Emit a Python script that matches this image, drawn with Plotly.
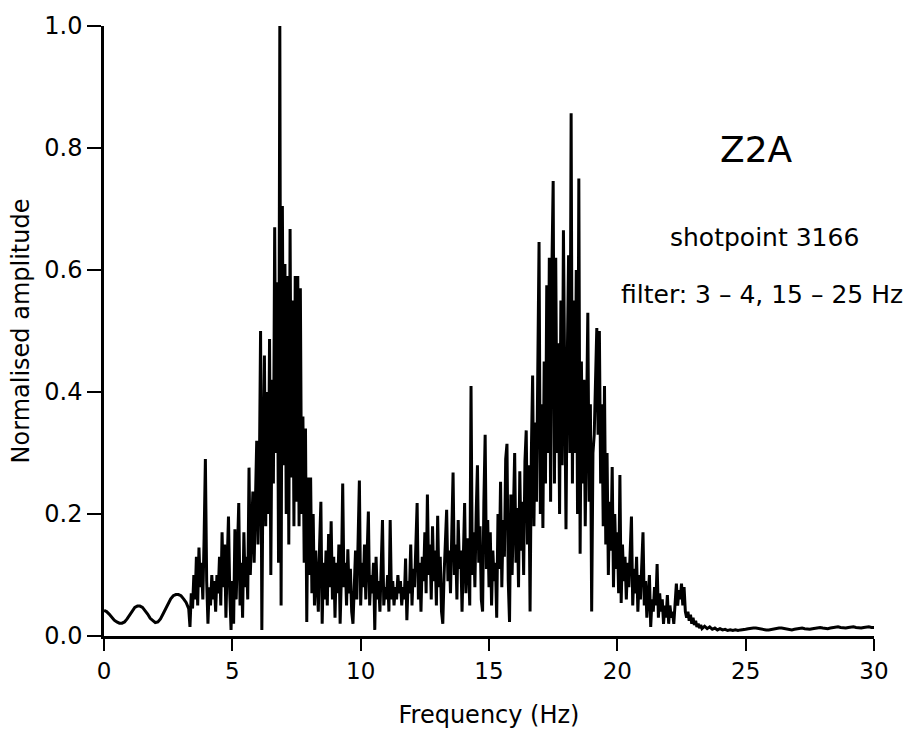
import numpy as np
import plotly.graph_objects as go

# Smooth low-frequency part of the spectrum, 0.0 - 3.3 Hz every 0.1 Hz
low_f0, low_df = 0.0, 0.1
low_amp = [
    0.042, 0.040, 0.036, 0.031, 0.026, 0.023, 0.021, 0.021, 0.023, 0.028,
    0.035, 0.042, 0.047, 0.049, 0.049, 0.047, 0.042, 0.036, 0.029, 0.025,
    0.022, 0.023, 0.028, 0.036, 0.045, 0.054, 0.061, 0.066, 0.068, 0.068,
    0.066, 0.061, 0.055, 0.045,
]

# Pass-band part, 3.35 - 23.30 Hz every 0.05 Hz (one row per Hz)
band_f0, band_df = 3.35, 0.05
band_amp = [
    0.015, 0.07, 0.045, 0.10, 0.06, 0.13, 0.05, 0.145, 0.08, 0.12, 0.06, 0.16, 0.29, 0.09, 0.02, 0.08, 0.05, 0.10, 0.06, 0.09,
    0.04, 0.10, 0.07, 0.13, 0.05, 0.17, 0.08, 0.15, 0.03, 0.12, 0.196, 0.07, 0.01, 0.09, 0.02, 0.175, 0.06, 0.14, 0.218, 0.05,
    0.12, 0.03, 0.17, 0.08, 0.13, 0.06, 0.276, 0.10, 0.18, 0.237, 0.12, 0.22, 0.32, 0.15, 0.25, 0.50, 0.01, 0.30, 0.46, 0.18,
    0.40, 0.20, 0.487, 0.10, 0.42, 0.25, 0.67, 0.30, 0.58, 0.12, 1.00, 0.05, 0.705, 0.28, 0.61, 0.20, 0.59, 0.15, 0.667, 0.26,
    0.55, 0.18, 0.59, 0.22, 0.59, 0.18, 0.57, 0.20, 0.36, 0.12, 0.34, 0.023, 0.26, 0.10, 0.26, 0.07, 0.20, 0.05, 0.14, 0.09,
    0.04, 0.15, 0.22, 0.02, 0.12, 0.06, 0.14, 0.05, 0.167, 0.08, 0.188, 0.06, 0.13, 0.03, 0.12, 0.07, 0.15, 0.02, 0.10, 0.25,
    0.08, 0.12, 0.05, 0.142, 0.07, 0.11, 0.04, 0.02, 0.09, 0.14, 0.06, 0.17, 0.255, 0.05, 0.12, 0.08, 0.15, 0.06, 0.13, 0.204,
    0.05, 0.10, 0.07, 0.12, 0.01, 0.13, 0.06, 0.09, 0.04, 0.11, 0.19, 0.05, 0.08, 0.06, 0.10, 0.04, 0.19, 0.06, 0.09, 0.05,
    0.08, 0.06, 0.10, 0.07, 0.09, 0.05, 0.08, 0.06, 0.127, 0.026, 0.09, 0.07, 0.15, 0.05, 0.11, 0.08, 0.14, 0.218, 0.06, 0.12,
    0.04, 0.13, 0.09, 0.17, 0.07, 0.232, 0.10, 0.15, 0.06, 0.18, 0.09, 0.14, 0.05, 0.197, 0.08, 0.13, 0.04, 0.02, 0.10, 0.16,
    0.207, 0.09, 0.14, 0.07, 0.18, 0.268, 0.10, 0.15, 0.06, 0.19, 0.11, 0.14, 0.04, 0.13, 0.218, 0.07, 0.16, 0.12, 0.05, 0.41,
    0.10, 0.17, 0.08, 0.20, 0.28, 0.12, 0.18, 0.06, 0.04, 0.22, 0.33, 0.11, 0.19, 0.08, 0.17, 0.05, 0.14, 0.09, 0.12, 0.03,
    0.20, 0.11, 0.253, 0.08, 0.19, 0.13, 0.29, 0.315, 0.09, 0.023, 0.232, 0.10, 0.20, 0.30, 0.12, 0.21, 0.08, 0.27, 0.14, 0.22,
    0.10, 0.286, 0.337, 0.15, 0.28, 0.04, 0.30, 0.427, 0.18, 0.35, 0.22, 0.40, 0.646, 0.20, 0.38, 0.177, 0.45, 0.25, 0.575, 0.30,
    0.62, 0.22, 0.60, 0.746, 0.25, 0.62, 0.30, 0.48, 0.20, 0.55, 0.28, 0.665, 0.35, 0.175, 0.45, 0.624, 0.30, 0.857, 0.25, 0.55,
    0.30, 0.60, 0.20, 0.75, 0.135, 0.45, 0.25, 0.42, 0.18, 0.40, 0.53, 0.22, 0.38, 0.04, 0.30, 0.33, 0.45, 0.505, 0.33, 0.50,
    0.25, 0.38, 0.18, 0.41, 0.15, 0.30, 0.10, 0.22, 0.14, 0.277, 0.08, 0.20, 0.11, 0.17, 0.07, 0.264, 0.054, 0.15, 0.09, 0.13,
    0.06, 0.12, 0.08, 0.14, 0.196, 0.05, 0.11, 0.07, 0.13, 0.04, 0.10, 0.06, 0.12, 0.17, 0.05, 0.09, 0.03, 0.07, 0.10, 0.015,
    0.06, 0.04, 0.08, 0.05, 0.118, 0.03, 0.07, 0.04, 0.06, 0.02, 0.05, 0.03, 0.067, 0.02, 0.05, 0.03, 0.04, 0.02, 0.06, 0.086,
    0.05, 0.075, 0.06, 0.086, 0.05, 0.08, 0.04, 0.03, 0.04, 0.025, 0.035, 0.02, 0.03, 0.018, 0.025, 0.015, 0.02, 0.013, 0.018, 0.012,
]

# High-frequency tail, 23.4 - 30.0 Hz every 0.1 Hz
tail_f0, tail_df = 23.4, 0.1
tail_amp = [
    0.016, 0.012, 0.015, 0.011, 0.013, 0.010, 0.012, 0.010, 0.011, 0.009,
    0.010, 0.009, 0.010, 0.009, 0.010, 0.010, 0.011, 0.012, 0.013, 0.013,
    0.013, 0.012, 0.011, 0.010, 0.010, 0.010, 0.011, 0.012, 0.013, 0.013,
    0.013, 0.012, 0.011, 0.010, 0.010, 0.011, 0.012, 0.013, 0.013, 0.012,
    0.011, 0.011, 0.012, 0.013, 0.014, 0.014, 0.013, 0.012, 0.012, 0.013,
    0.014, 0.015, 0.015, 0.014, 0.013, 0.013, 0.014, 0.015, 0.015, 0.014,
    0.013, 0.013, 0.014, 0.015, 0.015, 0.014, 0.014,
]

x_ticks = [0, 5, 10, 15, 20, 25, 30]
y_ticks = [0.0, 0.2, 0.4, 0.6, 0.8, 1.0]
y_tick_text = ["0.0", "0.2", "0.4", "0.6", "0.8", "1.0"]


def grid(f0, df, values):
    return np.round(f0 + df * np.arange(len(values)), 3)


freq = np.concatenate([grid(low_f0, low_df, low_amp),
                       grid(band_f0, band_df, band_amp),
                       grid(tail_f0, tail_df, tail_amp)])
amp = np.concatenate([low_amp, band_amp, tail_amp])

fig = go.Figure()
fig.add_trace(go.Scatter(
    x=freq, y=amp, mode="lines",
    line=dict(color="black", width=3),
    hoverinfo="skip", showlegend=False,
))

title_font = dict(family="DejaVu Sans", size=24, color="black")
note_font = dict(family="DejaVu Sans", size=25, color="black")

fig.update_layout(
    width=906, height=739,
    margin=dict(l=104, r=32, t=20, b=103),
    paper_bgcolor="white", plot_bgcolor="white",
    font=title_font,
    xaxis=dict(
        range=[0, 30], tickvals=x_ticks, ticktext=[str(t) for t in x_ticks],
        showgrid=False, zeroline=False,
        showline=True, linecolor="black", linewidth=3,
        ticks="outside", ticklen=12, tickwidth=1.5, tickcolor="black",
        tickfont=dict(family="DejaVu Sans", size=23, color="black"),
        title=dict(text="Frequency (Hz)", font=title_font, standoff=24),
    ),
    yaxis=dict(
        range=[0, 1], tickvals=y_ticks, ticktext=y_tick_text,
        showgrid=False, zeroline=False,
        showline=True, linecolor="black", linewidth=2.5,
        ticks="outside", ticklen=14, tickwidth=2, tickcolor="black",
        tickfont=dict(family="DejaVu Sans", size=24, color="black"),
        title=dict(text="Normalised amplitude", font=title_font, standoff=8),
    ),
    annotations=[
        dict(x=25.44, y=0.797, xref="x", yref="y", text="Z2A", showarrow=False,
             font=dict(family="DejaVu Sans", size=36, color="black")),
        dict(x=25.75, y=0.654, xref="x", yref="y", text="shotpoint 3166", showarrow=False,
             font=note_font),
        dict(x=25.63, y=0.56, xref="x", yref="y", text="filter: 3 – 4, 15 – 25 Hz",
             showarrow=False, font=note_font),
    ],
)

fig.write_html("out.html")
